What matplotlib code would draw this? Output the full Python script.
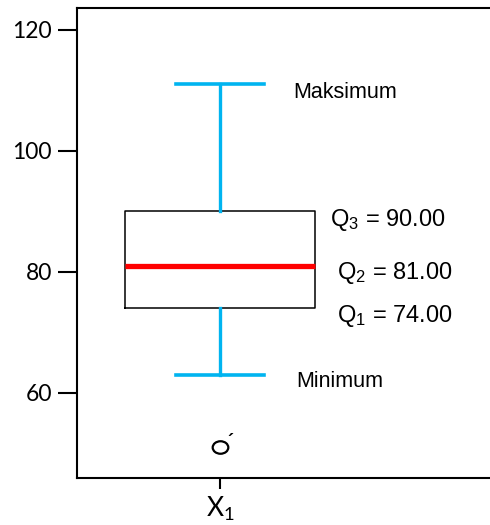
import matplotlib
matplotlib.use("Agg")
import matplotlib.pyplot as plt
from matplotlib.markers import MarkerStyle
from matplotlib.transforms import Affine2D

# ringkasan lima angka untuk X1
label = 'X1'
minimum = 63
q1 = 74
q2 = 81
q3 = 90
maksimum = 111
pencilan = [51]
y_ticks = [60, 80, 100, 120]

cyan = '#00b4f0'

fig = plt.figure(figsize=(4.9, 5.25), dpi=100)
ax = fig.add_axes([77/490, 47/525, 1 - 77/490, 470/525])

# lingkaran pencilan agak melebar (seperti di SPSS)
elips = MarkerStyle('o', transform=Affine2D().scale(1.25, 1.0))

stats = [dict(label=label, med=q2, q1=q1, q3=q3,
              whislo=minimum, whishi=maksimum, fliers=pencilan)]
ax.bxp(stats, positions=[1], widths=0.5, capwidths=0.233,
       boxprops=dict(color='black', linewidth=1.1),
       whiskerprops=dict(color=cyan, linewidth=2.4),
       capprops=dict(color=cyan, linewidth=2.6),
       medianprops=dict(color='#ff0000', linewidth=3.8, solid_capstyle='butt'),
       flierprops=dict(marker=elips, markerfacecolor='none', markeredgecolor='black',
                       markersize=9, markeredgewidth=1.6))
# tanda kecil di samping pencilan
for p in pencilan:
    ax.text(1.028, p + 0.8, '´', fontsize=13, family='Liberation Sans',
            ha='center', va='center', fontweight='bold')

# keterangan
txt = dict(family='Liberation Sans', va='center', ha='left')
ax.text(1.193, maksimum - 1.4, 'Maksimum', fontsize=15.5, **txt)
ax.text(1.201, minimum - 1.2, 'Minimum', fontsize=15.5, **txt)
ax.text(1.291, q3 - 1.4, r'$\mathregular{Q_3}$ = ' + f'{q3:.2f}', fontsize=17, **txt)
ax.text(1.310, q2 - 1.2, r'$\mathregular{Q_2}$ = ' + f'{q2:.2f}', fontsize=17, **txt)
ax.text(1.310, q1 - 1.3, r'$\mathregular{Q_1}$ = ' + f'{q1:.2f}', fontsize=17, **txt)

ax.set_xlim(0.622, 1.714)
ax.set_ylim(45.9, 123.6)
ax.set_yticks(y_ticks)
ax.set_yticklabels([str(t) for t in y_ticks], family='Lato', fontsize=16.5)
ax.set_xticks([1])
ax.set_xticklabels([r'$\mathregular{X_1}$'], family='Lato', fontsize=19)

ax.spines['right'].set_visible(False)
for s in ['left', 'top', 'bottom']:
    ax.spines[s].set_linewidth(1.5)
ax.tick_params(axis='y', length=14, width=1.5, pad=4)
ax.tick_params(axis='x', length=8, width=1.5, pad=4)

fig.savefig('out.png', dpi=100)
